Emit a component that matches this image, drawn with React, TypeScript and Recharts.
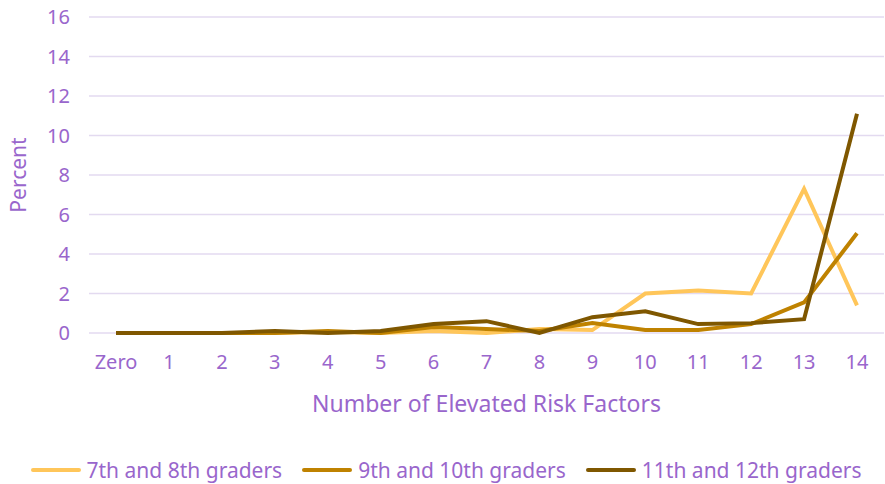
import { LineChart, Line, XAxis, YAxis, CartesianGrid, Legend } from "recharts";

const categories = ["Zero", "1", "2", "3", "4", "5", "6", "7", "8", "9", "10", "11", "12", "13", "14"];
const grade78 = [0, 0, 0, 0, 0.05, 0, 0.1, 0, 0.2, 0.15, 2.0, 2.15, 2.0, 7.3, 1.4];
const grade910 = [0, 0, 0, 0, 0.1, 0, 0.3, 0.2, 0.1, 0.5, 0.15, 0.15, 0.45, 1.55, 5.05];
const grade1112 = [0, 0, 0, 0.1, 0, 0.1, 0.45, 0.6, 0, 0.8, 1.1, 0.45, 0.5, 0.7, 11.1];
const yTicks = [0, 2, 4, 6, 8, 10, 12, 14, 16];

const purple = "#9966CC";
const font = "'Noto Sans', sans-serif";

const series = [
  { key: "g78", name: "7th and 8th graders", color: "#FFC65A" },
  { key: "g910", name: "9th and 10th graders", color: "#BF8200" },
  { key: "g1112", name: "11th and 12th graders", color: "#7F5700" },
];

const data = categories.map((c, i) => ({
  cat: c,
  g78: grade78[i],
  g910: grade910[i],
  g1112: grade1112[i],
}));

const LegendContent = () => (
  <div style={{ display: "flex", justifyContent: "center", paddingTop: 14, paddingLeft: 8, fontFamily: font, fontSize: 21, color: purple }}>
    {series.map((s) => (
      <div key={s.key} style={{ display: "flex", alignItems: "center", margin: "0 10px" }}>
        <div style={{ width: 50, height: 4, borderRadius: 2, background: s.color, marginRight: 6 }} />
        <span style={{ lineHeight: "24px" }}>{s.name}</span>
      </div>
    ))}
  </div>
);

export default function App() {
  return (
    <div style={{ position: "absolute", left: 0, top: 0, background: "#fff" }}>
      <LineChart width={885} height={484} data={data} margin={{ top: 17, right: 1, left: 0, bottom: 0 }}>
        <CartesianGrid vertical={false} stroke="#E3DAF0" strokeWidth={1.3} />
        <XAxis
          dataKey="cat"
          axisLine={false}
          tickLine={false}
          height={111}
          padding={{ left: 27, right: 27 }}
          tickMargin={16}
          tick={{ fill: purple, fontSize: 20, fontFamily: font }}
          interval={0}
          label={{ value: "Number of Elevated Risk Factors", position: "insideBottom", offset: 32, fill: purple, fontSize: 23, fontFamily: font }}
        />
        <YAxis
          domain={[0, 16]}
          ticks={yTicks}
          width={89}
          axisLine={false}
          tickLine={false}
          tickMargin={13}
          tick={{ fill: purple, fontSize: 20, fontFamily: font }}
          label={{
            content: ({ viewBox }: any) => (
              <text
                x={18}
                y={viewBox.y + viewBox.height / 2}
                transform={`rotate(-90, 18, ${viewBox.y + viewBox.height / 2})`}
                textAnchor="middle"
                dominantBaseline="central"
                fill={purple}
                fontSize={21}
                fontFamily={font}
              >
                Percent
              </text>
            ),
          }}
        />
        <Legend verticalAlign="bottom" height={40} content={<LegendContent />} />
        {series.map((s) => (
          <Line
            key={s.key}
            type="linear"
            dataKey={s.key}
            name={s.name}
            stroke={s.color}
            strokeWidth={4}
            dot={false}
            isAnimationActive={false}
          />
        ))}
      </LineChart>
    </div>
  );
}
